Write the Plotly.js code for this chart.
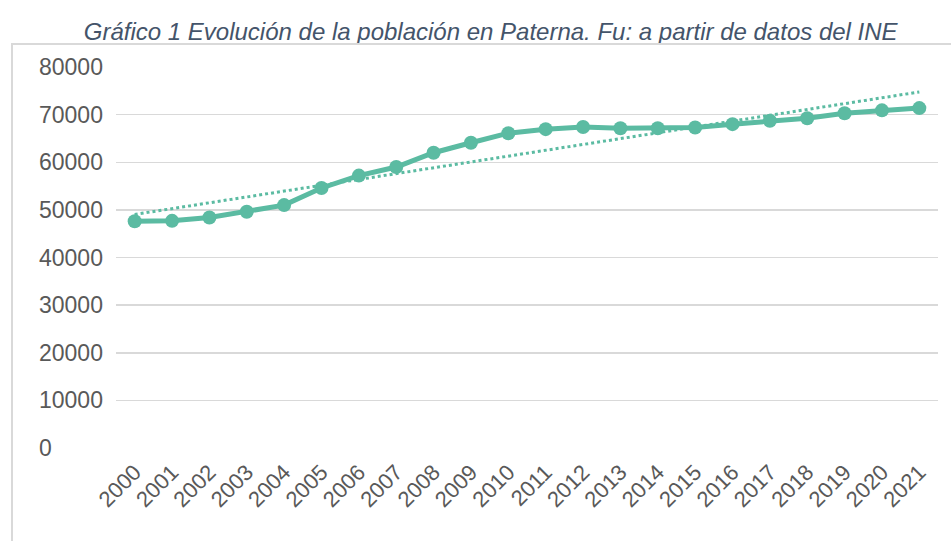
<!DOCTYPE html>
<html>
<head>
<meta charset="utf-8">
<script src="https://cdn.plot.ly/plotly-3.0.1.min.js"></script>
<style>
html,body{margin:0;padding:0;background:#fff;}
#wrap{position:relative;width:951px;height:541px;}
#frame{position:absolute;left:11px;top:43px;width:940px;height:498px;border-left:2px solid #d9d9d9;border-top:2px solid #d9d9d9;box-sizing:border-box;pointer-events:none;}
#chart{position:absolute;left:0;top:0;width:951px;height:541px;}
</style>
</head>
<body>
<div id="wrap"><div id="chart"></div><div id="frame"></div></div>
<script>
const years = ["2000","2001","2002","2003","2004","2005","2006","2007","2008","2009","2010","2011","2012","2013","2014","2015","2016","2017","2018","2019","2020","2021"];
const population = [47600,47700,48400,49600,51000,54600,57200,59000,62000,64100,66100,66950,67400,67150,67150,67300,68000,68700,69250,70300,70900,71370];
const yTicks = [0,10000,20000,30000,40000,50000,60000,70000,80000];

// Linear trendline (least squares) as in the source chart
const n = population.length;
const xs = population.map((_, i) => i);
const mx = xs.reduce((a,b)=>a+b,0)/n;
const my = population.reduce((a,b)=>a+b,0)/n;
let sxy=0, sxx=0;
for (let i=0;i<n;i++){ sxy += (xs[i]-mx)*(population[i]-my); sxx += (xs[i]-mx)**2; }
const slope = sxy/sxx, icpt = my - slope*mx;
const trend = xs.map(i => icpt + slope*i);

const teal = '#5BBBA2';
const font = 'Liberation Sans, Arial, sans-serif';
const data = [
  {x: years, y: trend, type:'scatter', mode:'lines', line:{color:teal, width:3, dash:'dot'}, hoverinfo:'skip'},
  {x: years, y: population, type:'scatter', mode:'lines+markers', line:{color:teal, width:5}, marker:{color:teal, size:14}}
];
const annotations = yTicks.map(v => ({
  xref:'paper', yref:'y', x:-0.096, y:v, xanchor:'left', yanchor:'middle',
  text:String(v), showarrow:false, font:{family:font, size:23, color:'#595959'}
}));
const layout = {
  width:951, height:541,
  margin:{l:116, r:13, t:67, b:93},
  paper_bgcolor:'rgba(0,0,0,0)', plot_bgcolor:'#fff',
  showlegend:false,
  title:{text:'Gráfico 1 Evolución de la población en Paterna. Fu: a partir de datos del INE',
    font:{family:font, size:24, color:'#44546A', style:'italic'},
    x:0.516, xanchor:'center', y:0.942, yanchor:'middle', xref:'container', yref:'container'},
  xaxis:{type:'category', range:[-0.5,21.5], showgrid:false, zeroline:false, showline:false,
    tickangle:-45, ticks:'', ticklabelstandoff:6, tickfont:{family:font, size:22, color:'#595959'}},
  yaxis:{range:[0,80000], tickvals:yTicks, showticklabels:false, showgrid:true, gridcolor:'#d9d9d9', gridwidth:1.5,
    zeroline:false, showline:false, ticks:''},
  annotations: annotations
};
Plotly.newPlot('chart', data, layout, {displayModeBar:false, staticPlot:true});
</script>
</body>
</html>
